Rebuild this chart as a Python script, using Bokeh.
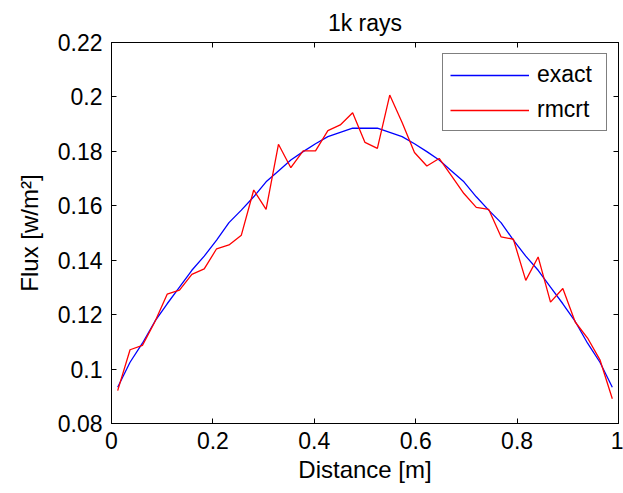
from bokeh.plotting import figure
from bokeh.models import LinearAxis, FixedTicker, Range1d, Legend, LegendItem
from bokeh.embed import file_html
from bokeh.resources import INLINE

# ---- data ----
distance = [0.0122, 0.0366, 0.0610, 0.0854, 0.1098, 0.1341, 0.1585, 0.1829, 0.2073, 0.2317,
            0.2561, 0.2805, 0.3049, 0.3293, 0.3537, 0.3780, 0.4024, 0.4268, 0.4512, 0.4756,
            0.5000, 0.5244, 0.5488, 0.5732, 0.5976, 0.6220, 0.6463, 0.6707, 0.6951, 0.7195,
            0.7439, 0.7683, 0.7927, 0.8171, 0.8415, 0.8659, 0.8902, 0.9146, 0.9390, 0.9634,
            0.9878]
exact = [0.0933, 0.1025, 0.1095, 0.1175, 0.1240, 0.1301, 0.1363, 0.1415, 0.1474, 0.1538,
         0.1584, 0.1633, 0.1688, 0.1728, 0.1768, 0.1799, 0.1828, 0.1854, 0.1870, 0.1885,
         0.1885, 0.1885, 0.1870, 0.1854, 0.1828, 0.1799, 0.1768, 0.1728, 0.1688, 0.1633,
         0.1584, 0.1538, 0.1474, 0.1415, 0.1363, 0.1301, 0.1240, 0.1175, 0.1095, 0.1025,
         0.0933]
rmcrt = [0.0921, 0.1071, 0.1087, 0.1173, 0.1275, 0.1290, 0.1348, 0.1368, 0.1442, 0.1456,
         0.1492, 0.1658, 0.1587, 0.1826, 0.1740, 0.1802, 0.1802, 0.1876, 0.1897, 0.1942,
         0.1833, 0.1811, 0.2007, 0.1906, 0.1796, 0.1746, 0.1774, 0.1710, 0.1645, 0.1594,
         0.1587, 0.1486, 0.1477, 0.1326, 0.1412, 0.1246, 0.1296, 0.1173, 0.1114, 0.1034,
         0.0891]
x_ticks = [0, 0.2, 0.4, 0.6, 0.8, 1]
x_tick_labels = ["0", "0.2", "0.4", "0.6", "0.8", "1"]
y_ticks = [0.08, 0.1, 0.12, 0.14, 0.16, 0.18, 0.2, 0.22]
y_tick_labels = ["0.08", "0.1", "0.12", "0.14", "0.16", "0.18", "0.2", "0.22"]

FONT = "Liberation Sans"
FS = "23px"
LFS = "24px"

p = figure(width=623, height=493, output_backend="svg", toolbar_location=None,
           x_range=Range1d(0, 1), y_range=Range1d(0.08, 0.22),
           title="1k rays", min_border_left=111, min_border_right=5,
           min_border_top=42, min_border_bottom=70)
p.title.text_font = FONT
p.title.text_font_size = FS
p.title.text_font_style = "normal"
p.title.text_color = "black"
p.title.align = "center"
p.title.standoff = 14
p.xgrid.visible = False
p.ygrid.visible = False
p.outline_line_color = "black"
p.outline_line_width = 1
p.background_fill_color = "white"
p.border_fill_color = "white"

def style_axis(ax, ticks, labels, show_labels=True):
    ax.ticker = FixedTicker(ticks=ticks)
    ax.major_label_overrides = {t: l for t, l in zip(ticks, labels)}
    ax.major_tick_in = 5
    ax.major_tick_out = 0
    ax.minor_tick_in = 0
    ax.minor_tick_out = 0
    ax.axis_line_color = "black"
    ax.major_tick_line_color = "black"
    ax.major_label_text_font = FONT
    ax.major_label_text_font_size = FS
    ax.major_label_text_color = "black" if show_labels else None
    ax.axis_label_text_font = FONT
    ax.axis_label_text_font_size = LFS
    ax.axis_label_text_font_style = "normal"
    ax.axis_label_text_color = "black"

style_axis(p.xaxis[0], x_ticks, x_tick_labels)
style_axis(p.yaxis[0], y_ticks, y_tick_labels)
p.xaxis[0].axis_label = "Distance [m]"
p.yaxis[0].axis_label = "Flux [w/m²]"
p.xaxis[0].major_label_standoff = 8
p.yaxis[0].major_label_standoff = 9
p.xaxis[0].axis_label_standoff = 4
p.yaxis[0].axis_label_standoff = 12

top = LinearAxis()
style_axis(top, x_ticks, x_tick_labels, show_labels=False)
top.major_label_text_font_size = "0px"
top.major_label_standoff = 0
p.add_layout(top, "above")
right = LinearAxis()
style_axis(right, y_ticks, y_tick_labels, show_labels=False)
right.major_label_text_font_size = "0px"
right.major_label_standoff = 0
p.add_layout(right, "right")

r1 = p.line(distance, exact, line_color="#0000FF", line_width=1.3)
r2 = p.line(distance, rmcrt, line_color="#FF0000", line_width=1.3)

legend = Legend(items=[LegendItem(label="exact", renderers=[r1]),
                       LegendItem(label="rmcrt", renderers=[r2])],
                location="top_right")
legend.label_text_font = FONT
legend.label_text_font_size = FS
legend.label_text_color = "black"
legend.glyph_width = 79
legend.glyph_height = 24
legend.label_height = 24
legend.label_width = 62
legend.label_standoff = 8
legend.padding = 7
legend.spacing = 8
legend.margin = 11
legend.border_line_color = "black"
legend.border_line_width = 1
legend.background_fill_alpha = 1
p.add_layout(legend)

open("out.html", "w").write(file_html(p, INLINE))
